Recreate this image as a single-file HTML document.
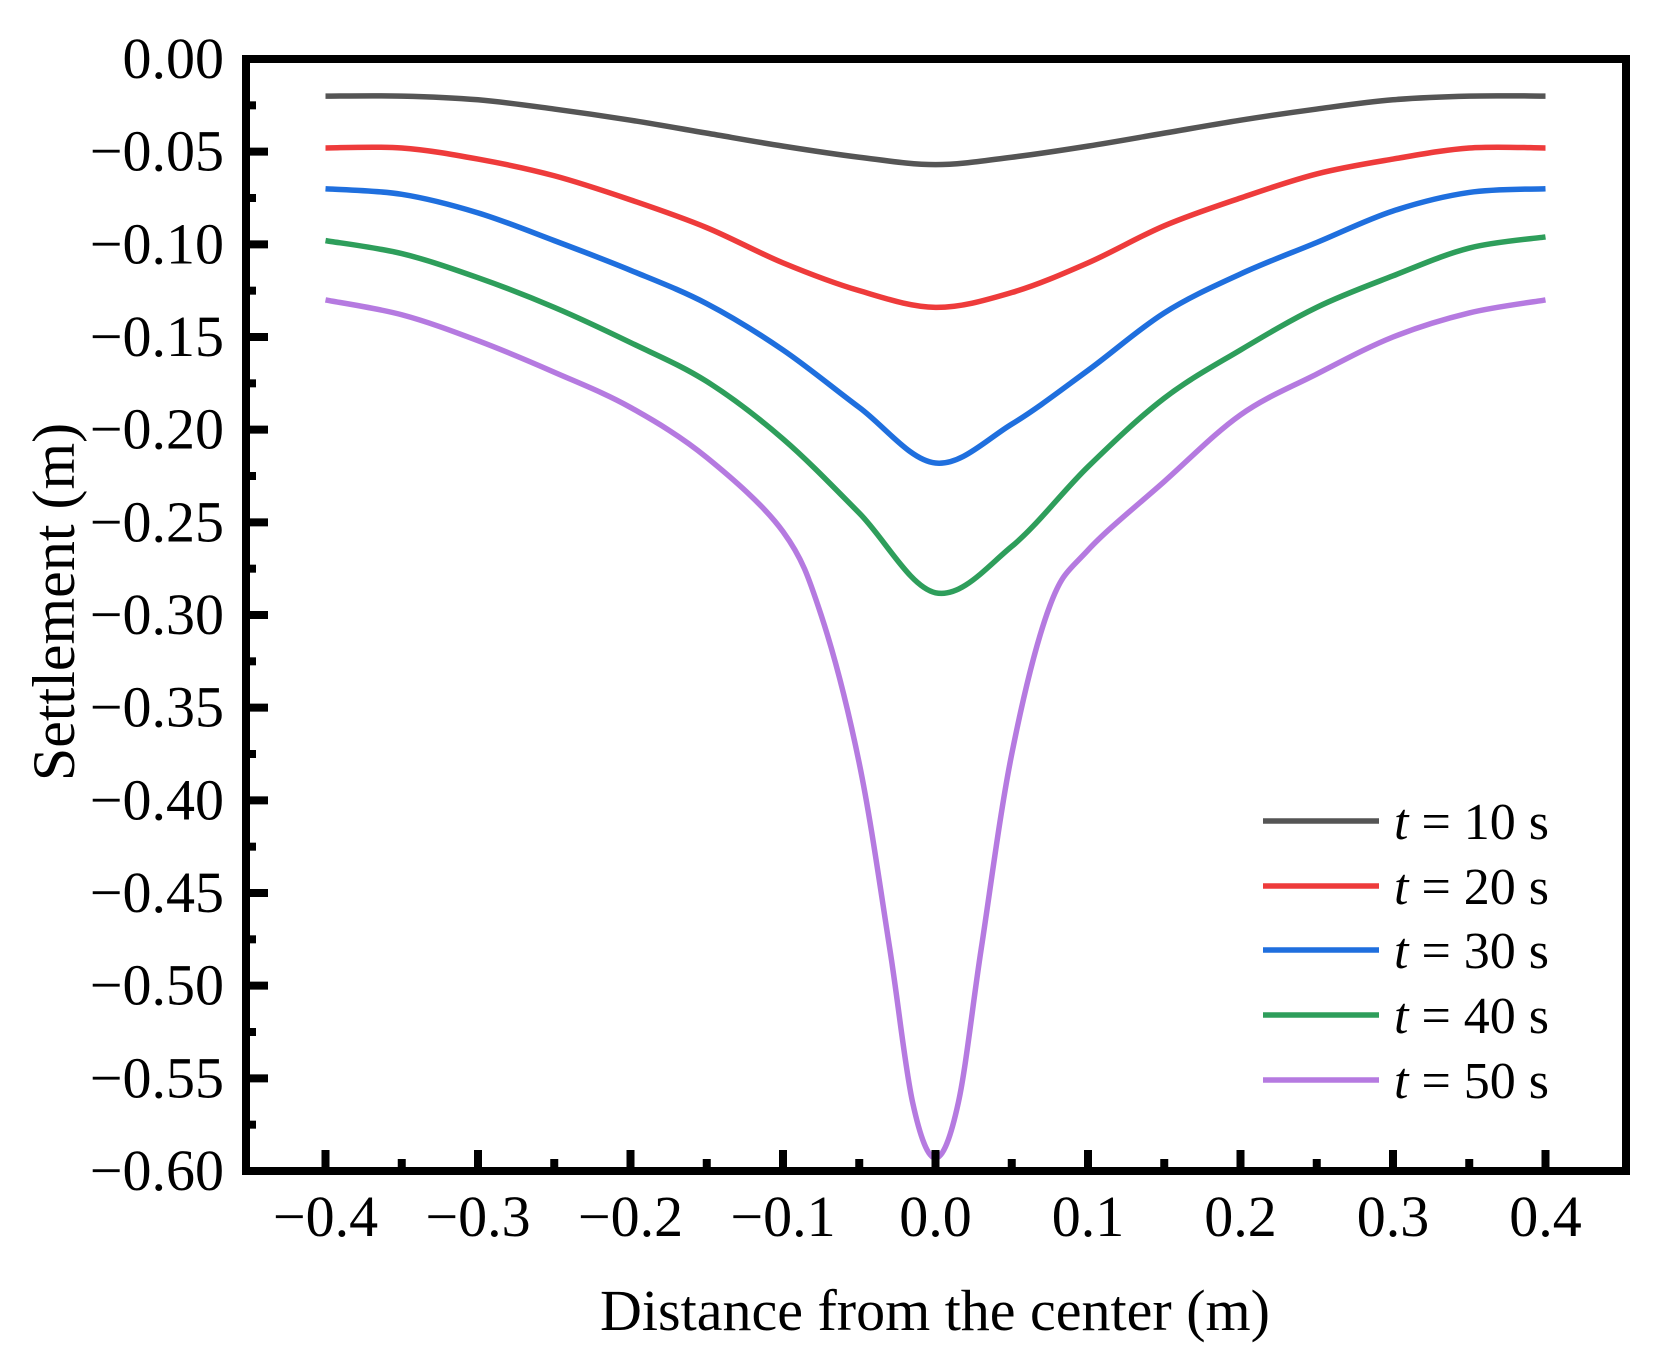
<!DOCTYPE html>
<html><head><meta charset="utf-8"><style>
html,body{margin:0;padding:0;background:#fff;}
svg{display:block;font-family:"Liberation Serif",serif;}
</style></head><body>
<svg id="chart" width="1671" height="1361" viewBox="0 0 1671 1361" xmlns="http://www.w3.org/2000/svg">
<g id="grid"></g>
<g id="series"></g>
<rect x="246" y="59" width="1380" height="1112" fill="none" stroke="#000" stroke-width="8"/>
<g id="ticks"></g>
<text x="935" y="1330" font-size="58" text-anchor="middle">Distance from the center (m)</text>
<text transform="translate(74,602) rotate(-90)" font-size="60" text-anchor="middle">Settlement (m)</text>
<g id="legend"></g>
</svg>
<script>
const xTicks=[-0.4,-0.3,-0.2,-0.1,0.0,0.1,0.2,0.3,0.4];
const xTickLabels=["\u22120.4","\u22120.3","\u22120.2","\u22120.1","0.0","0.1","0.2","0.3","0.4"];
const yTicks=[0,-0.05,-0.10,-0.15,-0.20,-0.25,-0.30,-0.35,-0.40,-0.45,-0.50,-0.55,-0.60];
const yTickLabels=["0.00","\u22120.05","\u22120.10","\u22120.15","\u22120.20","\u22120.25","\u22120.30","\u22120.35","\u22120.40","\u22120.45","\u22120.50","\u22120.55","\u22120.60"];
const seriesNames=["t = 10 s","t = 20 s","t = 30 s","t = 40 s","t = 50 s"];
const seriesColors=["#555555","#ee3b3b","#1f6fde","#2e9e5b","#b57ae0"];
const xs=[-0.4,-0.35,-0.3,-0.25,-0.2,-0.15,-0.1,-0.05,0,0.05,0.1,0.15,0.2,0.25,0.3,0.35,0.4];
const s10=[-0.020,-0.020,-0.022,-0.027,-0.033,-0.040,-0.047,-0.053,-0.057,-0.053,-0.047,-0.040,-0.033,-0.027,-0.022,-0.020,-0.020];
const s20=[-0.048,-0.048,-0.054,-0.063,-0.076,-0.091,-0.110,-0.125,-0.134,-0.126,-0.110,-0.090,-0.075,-0.062,-0.054,-0.048,-0.048];
const s30=[-0.070,-0.073,-0.083,-0.098,-0.114,-0.132,-0.157,-0.188,-0.218,-0.197,-0.168,-0.137,-0.116,-0.099,-0.082,-0.072,-0.070];
const s40=[-0.098,-0.105,-0.118,-0.134,-0.153,-0.174,-0.205,-0.245,-0.288,-0.263,-0.220,-0.183,-0.157,-0.134,-0.117,-0.102,-0.096];
const xs50=[-0.4,-0.35,-0.3,-0.25,-0.2,-0.15,-0.1,-0.075,-0.05,-0.03,-0.015,0,0.015,0.03,0.05,0.075,0.1,0.15,0.2,0.25,0.3,0.35,0.4];
const s50=[-0.130,-0.138,-0.152,-0.169,-0.188,-0.215,-0.255,-0.300,-0.380,-0.480,-0.563,-0.593,-0.563,-0.480,-0.375,-0.295,-0.265,-0.228,-0.192,-0.170,-0.150,-0.137,-0.130];

const NS="http://www.w3.org/2000/svg";
function X(v){return 935.5+v*1525;}
function Y(v){return 59-v*(1112/0.6);}
function mk(t,a,p){const e=document.createElementNS(NS,t);for(const k in a)e.setAttribute(k,a[k]);p.appendChild(e);return e;}
const ticks=document.getElementById('ticks');
for(let i=0;i<xTicks.length;i++){
  const x=X(xTicks[i]);
  const l=mk('line',{x1:x,x2:x,y1:1167,y2:1150,stroke:'#000','stroke-width':8},ticks);
  
  
  const t=mk('text',{x:x,y:1236,'font-size':58,'text-anchor':'middle'},ticks);
  t.textContent=xTickLabels[i];
  
  
  if(i<xTicks.length-1){
    const xm=X(xTicks[i]+0.05);
    const m=mk('line',{x1:xm,x2:xm,y1:1167,y2:1159,stroke:'#000','stroke-width':8},ticks);
    
    
  }
}
for(let i=0;i<yTicks.length;i++){
  const y=Y(yTicks[i]);
  if(i>0&&i<yTicks.length-1){
    const l=mk('line',{x1:250,x2:268,y1:y,y2:y,stroke:'#000','stroke-width':8},ticks);
    
    
  }
  const t=mk('text',{x:224,y:y+19,'font-size':58,'text-anchor':'end'},ticks);
  t.textContent=yTickLabels[i];
  
  
  if(i<yTicks.length-1){
    const ym=Y(yTicks[i]-0.025);
    const m=mk('line',{x1:250,x2:256,y1:ym,y2:ym,stroke:'#000','stroke-width':8},ticks);
    
    
  }
}
function smooth(px,py){
  const P=px.map((x,i)=>[X(x),Y(py[i])]);
  let d='M'+P[0][0]+','+P[0][1];
  for(let i=0;i<P.length-1;i++){
    const p0=P[i-1]||P[i],p1=P[i],p2=P[i+1],p3=P[i+2]||P[i+1];
    const c1=[p1[0]+(p2[0]-p0[0])/6,p1[1]+(p2[1]-p0[1])/6];
    const c2=[p2[0]-(p3[0]-p1[0])/6,p2[1]-(p3[1]-p1[1])/6];
    d+=' C'+c1.join(',')+' '+c2.join(',')+' '+p2.join(',');
  }
  return d;
}
const sg=document.getElementById('series');
const data=[[xs,s10],[xs,s20],[xs,s30],[xs,s40],[xs50,s50]];
const lg=document.getElementById('legend');
const legY=[821,886,950,1015,1080];
data.forEach((s,i)=>{
  const p=mk('path',{d:smooth(s[0],s[1]),fill:'none',stroke:seriesColors[i],'stroke-width':5.5,'stroke-linejoin':'round'},sg);
  
  
  const l=mk('line',{x1:1263,x2:1379,y1:legY[i],y2:legY[i],stroke:seriesColors[i],'stroke-width':5.5},lg);
  
  
  const t=mk('text',{x:1394,y:legY[i]+18,'font-size':52},lg);
  t.innerHTML='<tspan font-style="italic">t</tspan> = '+(i+1)*10+' s';
  
  
});
</script>
</body></html>
